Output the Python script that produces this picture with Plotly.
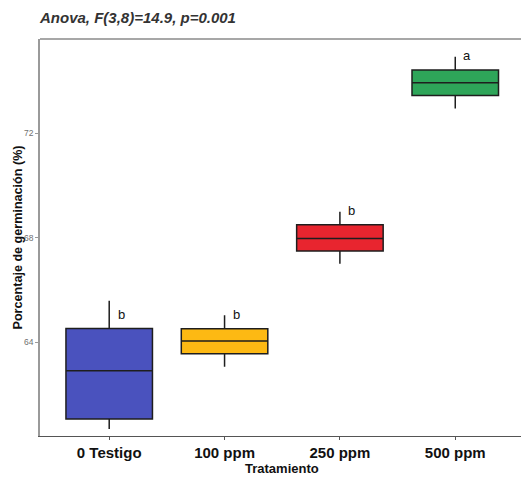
import plotly.graph_objects as go

categories = ["0 Testigo", "100 ppm", "250 ppm", "500 ppm"]
lower_whisker = [60.67, 63.05, 67.0, 72.95]
q1_values = [61.05, 63.55, 67.49, 73.45]
medians = [62.90, 64.04, 67.97, 73.93]
q3_values = [64.52, 64.51, 68.49, 74.42]
upper_whisker = [65.58, 65.03, 68.99, 74.93]
letters = ["b", "b", "b", "a"]
letter_y = [65.03, 65.03, 68.99, 74.93]
colors = ["#4A52BE", "#FDB913", "#E8252F", "#2EA559"]
y_ticks = [64, 68, 72]

fig = go.Figure()
for i, cat in enumerate(categories):
    fig.add_trace(go.Box(
        x=[cat],
        q1=[q1_values[i]], median=[medians[i]], q3=[q3_values[i]],
        lowerfence=[lower_whisker[i]], upperfence=[upper_whisker[i]],
        fillcolor=colors[i],
        line=dict(color="#1e1e1e", width=1.5),
        whiskerwidth=0,
        width=0.75,
        showlegend=False,
        hoverinfo="skip",
    ))
    fig.add_annotation(
        x=cat, y=letter_y[i], text=letters[i], showarrow=False,
        xshift=12, yshift=1, xanchor="center", yanchor="middle",
        font=dict(family="Liberation Sans, Arial", size=13, color="#111111"),
    )

fig.update_layout(
    width=521, height=479,
    margin=dict(l=40, r=0, t=39, b=43),
    plot_bgcolor="white", paper_bgcolor="white",
    boxmode="overlay",
    title=dict(
        text="<b><i>Anova, F(3,8)=14.9, p=0.001</i></b>",
        x=40/521, xanchor="left", xref="container",
        y=1 - 18/479, yanchor="middle", yref="container",
        font=dict(family="Liberation Sans, Arial", size=15, color="#333333"),
    ),
    xaxis=dict(
        type="category", categoryorder="array", categoryarray=categories,
        range=[-0.6, 3.57], automargin=False,
        showline=True, linecolor="#555555", linewidth=1,
        ticks="outside", ticklen=3, tickcolor="#555555",
        tickfont=dict(family="Liberation Sans, Arial", size=15, color="#111111", weight="bold"),
        showgrid=False, zeroline=False,
    ),
    yaxis=dict(
        range=[60.40, 75.61], automargin=False,
        tickvals=y_ticks,
        showline=True, linecolor="#9a9a9a", linewidth=1.5,
        ticks="outside", ticklen=3, tickcolor="#9a9a9a",
        tickfont=dict(family="Liberation Sans, Arial", size=8.5, color="#707070"),
        showgrid=False, zeroline=False,
    ),
    font=dict(family="Liberation Sans, Arial"),
)

fig.add_shape(type="line", xref="paper", yref="paper", x0=0, x1=1, y0=1, y1=1,
              line=dict(color="#8a8a8a", width=1.5))

fig.add_annotation(
    text="<b>Porcentaje de germinación (%)</b>", textangle=-90,
    xref="paper", yref="paper", x=-(40-17)/481, y=0.5,
    xanchor="center", yanchor="middle", showarrow=False,
    font=dict(family="Liberation Sans, Arial", size=12.6, color="#111111"),
)
fig.add_annotation(
    text="<b>Tratamiento</b>",
    xref="paper", yref="paper", x=(282-40)/481, y=-(468-436)/397,
    xanchor="center", yanchor="middle", showarrow=False,
    font=dict(family="Liberation Sans, Arial", size=13, color="#111111"),
)

fig.write_html("out.html", config={"displayModeBar": False},
               post_script="document.body.style.margin='0';document.body.style.overflow='hidden';")
